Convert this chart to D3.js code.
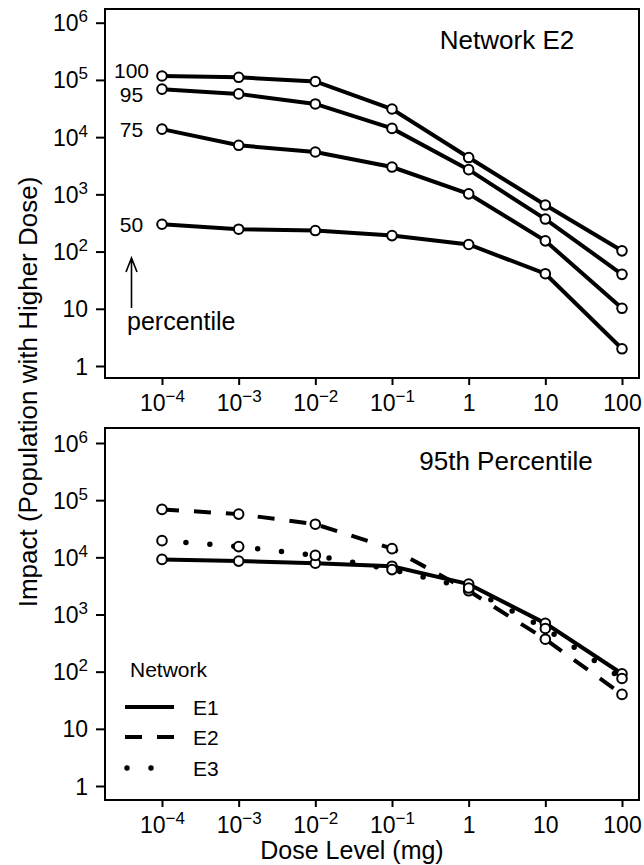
<!DOCTYPE html>
<html>
<head>
<meta charset="utf-8">
<script src="https://cdn.jsdelivr.net/npm/d3@7/dist/d3.min.js"></script>
<style>
body { margin: 0; background: #fff; }
text { font-family: "Liberation Sans", Arial, Helvetica, sans-serif; fill: #000; }
</style>
</head>
<body>
<div id="chart"></div>
<script>
// dose levels (mg) on the x axis
var doses = [1e-4, 1e-3, 1e-2, 1e-1, 1, 10, 100];
var xTickLabels = [["10","\u22124"],["10","\u22123"],["10","\u22122"],["10","\u22121"],["1",""],["10",""],["100",""]];
var yTicks = [1, 10, 100, 1e3, 1e4, 1e5, 1e6];
var yTickLabels = [["1",""],["10",""],["10","2"],["10","3"],["10","4"],["10","5"],["10","6"]];

// top panel: network E2, percentiles of impact
var percentiles = ["100", "95", "75", "50"];
var pct100 = [117000, 111000, 94000, 31000, 4400, 650, 103];
var pct95  = [69000, 57000, 38000, 14200, 2700, 370, 40];
var pct75  = [13800, 7200, 5500, 3000, 1020, 154, 10.2];
var pct50  = [300, 246, 233, 190, 133, 41, 2.0];

// bottom panel: 95th percentile by network
var networks = ["E1", "E2", "E3"];
var netE1 = [9200, 8600, 7900, 7000, 3400, 700, 92];
var netE2 = [69000, 57000, 38000, 14200, 2600, 370, 40];
var netE3 = [19600, 15400, 10800, 6100, 2900, 570, 76];

var w = 644;
var h = 865;
var left = 105, right = 639;

var x = d3.scaleLog().domain([1e-4, 100]).range([162, 622]);
var yTop = d3.scaleLog().domain([1, 1e6]).range([366, 22.7]);
var yBot = d3.scaleLog().domain([1, 1e6]).range([786, 443]);

var svg = d3.select("#chart")
	.append("svg")
	.attr("width", w)
	.attr("height", h)
	.style("background", "#FFFFFF");

// text like "10" with a raised exponent
function powText(sel, lab, size) {
	sel.append("tspan").text(lab[0]).attr("font-size", size);
	if (lab[1] != "") {
		sel.append("tspan").text(lab[1]).attr("font-size", 17).attr("dy", -9);
	}
}

function panel(y, y0, y1) {
	var g = svg.append("g");

	var xa = g.append("g")
		.attr("transform", "translate(0," + y1 + ")")
		.call(d3.axisBottom(x).tickValues(doses).tickSize(7).tickFormat(""));
	xa.select(".domain").remove();
	xa.selectAll(".tick line").attr("stroke", "#000").attr("stroke-width", 2);
	xa.selectAll(".tick text").remove();
	xa.selectAll(".tick").each(function(d, i) {
		var t = d3.select(this).append("text")
			.attr("y", 33)
			.attr("text-anchor", "middle");
		powText(t, xTickLabels[i], 23);
	});

	var ya = g.append("g")
		.attr("transform", "translate(" + left + ",0)")
		.call(d3.axisLeft(y).tickValues(yTicks).tickSize(9).tickFormat(""));
	ya.select(".domain").remove();
	ya.selectAll(".tick line").attr("stroke", "#000").attr("stroke-width", 2);
	ya.selectAll(".tick text").remove();
	ya.selectAll(".tick").each(function(d, i) {
		var t = d3.select(this).append("text")
			.attr("x", -17)
			.attr("y", 8)
			.attr("text-anchor", "end");
		powText(t, yTickLabels[i], 23);
	});

	g.append("rect")
		.attr("x", left).attr("y", y0)
		.attr("width", right - left).attr("height", y1 - y0)
		.attr("fill", "none")
		.attr("stroke", "#000")
		.attr("stroke-width", 2);
	return g;
}

function styleLine(sel, dash) {
	if (dash == "solid") sel.attr("stroke-width", 4);
	if (dash == "dashed") sel.attr("stroke-width", 4).attr("stroke-dasharray", "17,15");
	if (dash == "dotted") sel.attr("stroke-width", 5.5).attr("stroke-dasharray", "0,24").attr("stroke-linecap", "round");
}

function series(g, y, vals, dash) {
	var pts = vals.map(function(v, i) { return [doses[i], v]; });
	var line = d3.line()
		.x(function(d) { return x(d[0]); })
		.y(function(d) { return y(d[1]); });
	var p = g.append("path")
		.datum(pts)
		.attr("d", line)
		.attr("fill", "none")
		.attr("stroke", "#000");
	styleLine(p, dash);
	g.selectAll(null)
		.data(pts)
		.enter()
		.append("circle")
		.attr("cx", function(d) { return x(d[0]); })
		.attr("cy", function(d) { return y(d[1]); })
		.attr("r", 4.8)
		.attr("fill", "#fff")
		.attr("stroke", "#000")
		.attr("stroke-width", 2);
}

// ---- top panel
var topG = panel(yTop, 9, 378);
var topData = [pct100, pct95, pct75, pct50];
topData.forEach(function(s) { series(topG, yTop, s, "solid"); });

// percentile labels next to first point
var labOff = [-6, 5, 0, 0];
topData.forEach(function(s, i) {
	topG.append("text")
		.attr("x", 131.5)
		.attr("y", yTop(s[0]) + labOff[i] + 7.5)
		.attr("text-anchor", "middle")
		.attr("font-size", 21)
		.text(percentiles[i]);
});

topG.append("path")
	.attr("d", "M131.5,308 L131.5,258 M126,272 L131.5,258 L137,272")
	.attr("fill", "none")
	.attr("stroke", "#000")
	.attr("stroke-width", 1.6);
topG.append("text")
	.attr("x", 127).attr("y", 330)
	.attr("font-size", 25)
	.text("percentile");

topG.append("text")
	.attr("x", 507).attr("y", 49)
	.attr("text-anchor", "middle")
	.attr("font-size", 26)
	.text("Network E2");

// ---- bottom panel
var botG = panel(yBot, 428, 800);
var botData = [netE1, netE2, netE3];
var styles = ["solid", "dashed", "dotted"];
botData.forEach(function(s, i) { series(botG, yBot, s, styles[i]); });

botG.append("text")
	.attr("x", 506).attr("y", 470)
	.attr("text-anchor", "middle")
	.attr("font-size", 26)
	.text("95th Percentile");

// legend
var leg = botG.append("g");
leg.append("text").attr("x", 130).attr("y", 677).attr("font-size", 21).text("Network");
var legY = [707, 737, 768];
networks.forEach(function(n, i) {
	var l = leg.append("line")
		.attr("x1", i == 2 ? 127 : 125).attr("x2", i == 2 ? 152 : 174)
		.attr("y1", legY[i]).attr("y2", legY[i])
		.attr("stroke", "#000");
	styleLine(l, styles[i]);
	leg.append("text").attr("x", 193).attr("y", legY[i] + 8).attr("font-size", 21).text(n);
});

// axis titles
svg.append("text")
	.attr("transform", "translate(37,392) rotate(-90)")
	.attr("text-anchor", "middle")
	.attr("font-size", 26)
	.text("Impact (Population with Higher Dose)");
svg.append("text")
	.attr("x", 352).attr("y", 859)
	.attr("text-anchor", "middle")
	.attr("font-size", 25)
	.text("Dose Level (mg)");
</script>
</body>
</html>
